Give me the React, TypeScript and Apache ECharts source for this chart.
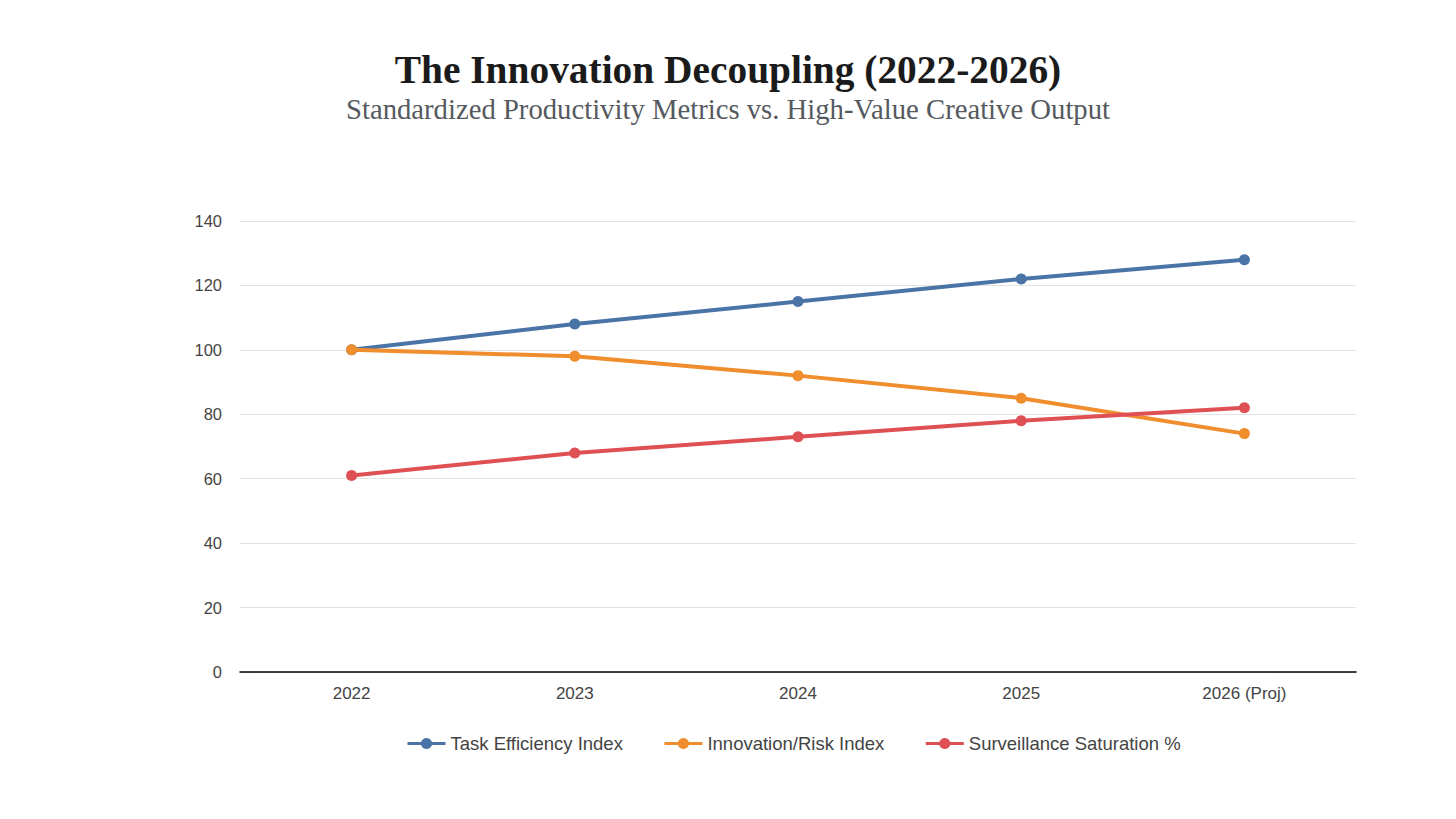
import React, { useEffect, useRef } from "react";
import * as echarts from "echarts";

const categories = ["2022", "2023", "2024", "2025", "2026 (Proj)"];
const taskEfficiency = [100, 108, 115, 122, 128];
const innovationRisk = [100, 98, 92, 85, 74];
const surveillance = [61, 68, 73, 78, 82];
const seriesNames = ["Task Efficiency Index", "Innovation/Risk Index", "Surveillance Saturation %"];
const colors = ["#4a74a6", "#f08d2c", "#de5054"];

export default function App() {
  const ref = useRef<HTMLDivElement>(null);
  useEffect(() => {
    if (!ref.current) return;
    const chart = echarts.init(ref.current, undefined, { renderer: "svg" });
    const mk = (name: string, data: number[], color: string) => ({
      name,
      type: "line",
      data,
      symbol: "circle",
      symbolSize: 11,
      lineStyle: { width: 4, color },
      itemStyle: { color },
      z: 2,
    });
    chart.setOption({
      animation: false,
      backgroundColor: "#ffffff",
      title: [
        {
          text: "The Innovation Decoupling (2022-2026)",
          left: "center",
          top: 45,
          textStyle: {
            fontFamily: "Liberation Serif",
            fontWeight: "bold",
            fontSize: 39.4,
            color: "#1b1b1b",
          },
        },
        {
          text: "Standardized Productivity Metrics vs. High-Value Creative Output",
          left: "center",
          top: 89,
          textStyle: {
            fontFamily: "Liberation Serif",
            fontWeight: "normal",
            fontSize: 28.7,
            color: "#555a60",
          },
        },
      ],
      legend: {
        bottom: 61,
        left: 401,
        itemWidth: 38,
        itemHeight: 14,
        itemGap: 40,
        data: seriesNames,
        lineStyle: { width: 3 },
        textStyle: { fontFamily: "Liberation Sans", fontSize: 18.5, color: "#444" },
      },
      grid: { left: 240, right: 100, top: 221, bottom: 147, containLabel: false },
      xAxis: {
        type: "category",
        data: categories,
        boundaryGap: true,
        axisLine: { lineStyle: { color: "#000", width: 1.5 } },
        axisTick: { show: false },
        axisLabel: { fontFamily: "Liberation Sans", fontSize: 17, color: "#444", margin: 13 },
      },
      yAxis: {
        type: "value",
        min: 0,
        max: 140,
        interval: 20,
        axisLine: { show: false },
        axisTick: { show: false },
        splitLine: { lineStyle: { color: "#e3e3e3", width: 1 } },
        axisLabel: { fontFamily: "Liberation Sans", fontSize: 16.5, color: "#444", margin: 18 },
      },
      series: [
        mk(seriesNames[0], taskEfficiency, colors[0]),
        mk(seriesNames[1], innovationRisk, colors[1]),
        mk(seriesNames[2], surveillance, colors[2]),
      ],
    });
    return () => chart.dispose();
  }, []);
  return (
    <div
      ref={ref}
      style={{ position: "fixed", left: 0, top: 0, width: "1456px", height: "819px" }}
    />
  );
}
